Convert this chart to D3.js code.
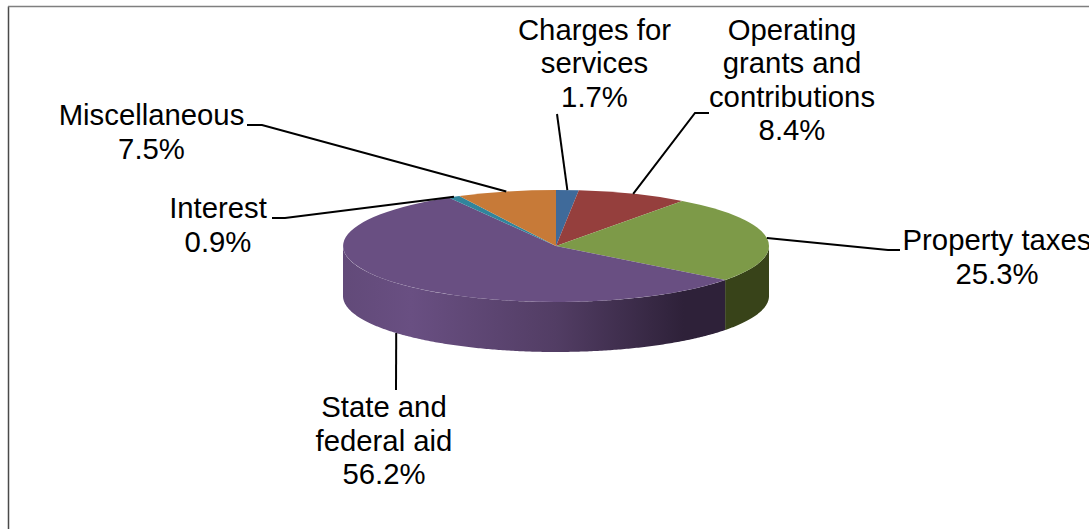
<!DOCTYPE html>
<html>
<head>
    <title>Revenue Pie</title>
    <script src="https://cdn.jsdelivr.net/npm/d3@7/dist/d3.min.js"></script>
    <style>
        html, body {
            margin: 0;
            padding: 0;
            background: #fff;
            overflow: hidden;
        }
        svg {
            display: block;
        }
        .slice-label {
            font-family: "Liberation Sans", Arial, sans-serif;
            font-size: 29.3px;
            fill: #000;
        }
    </style>
</head>
<body>
    <svg width="1089" height="529" id="mainsvg"></svg>
    <script>
        const categories = ['Charges for services', 'Operating grants and contributions', 'Property taxes', 'State and federal aid', 'Interest', 'Miscellaneous'];
        const shares = [1.7, 8.4, 25.3, 56.2, 0.9, 7.5];
        const topColors = ['#3f6a9a', '#953f3d', '#7d9a48', '#694f82', '#31859c', '#c77a38'];
        const labelLines = [
            ['Charges for', 'services', '1.7%'],
            ['Operating', 'grants and', 'contributions', '8.4%'],
            ['Property taxes', '25.3%'],
            ['State and', 'federal aid', '56.2%'],
            ['Interest', '0.9%'],
            ['Miscellaneous', '7.5%']
        ];

        const svg = d3.select('#mainsvg');
        const cx = 556, cy = 246, rx = 213, ry = 56, depth = 50;

        // chart frame
        svg.append('path').attr('d', 'M8.5,529V6.5').attr('stroke', '#4a4a4a').attr('stroke-width', 1.5).attr('fill', 'none');
        svg.append('path').attr('d', 'M8,6.5H1089').attr('stroke', '#7f7f7f').attr('stroke-width', 1.5).attr('fill', 'none');

        const pie = d3.pie().sort(null);
        const arcs = pie(shares);

        // angle on the ellipse -> screen point, 0 at the top, clockwise
        const xAt = a => cx + rx * Math.sin(a);
        const yAt = a => cy - ry * Math.cos(a);

        const grad = svg.append('defs').append('linearGradient')
            .attr('id', 'sideGrad')
            .attr('gradientUnits', 'userSpaceOnUse')
            .attr('x1', cx - rx).attr('x2', cx + rx).attr('y1', 0).attr('y2', 0);
        [[0, '#624a79'], [0.16, '#694f82'], [0.5, '#523d64'], [0.8, '#2e2139'], [1, '#2e2139']]
            .forEach(s => grad.append('stop').attr('offset', s[0]).attr('stop-color', s[1]));

        // sides: only the part of each slice facing the viewer (90deg..270deg)
        const sideColors = [null, null, '#384319', 'url(#sideGrad)', null, null];
        const sideLine = d3.line().x(d => d[0]).y(d => d[1]);
        arcs.forEach((d, i) => {
            if (!sideColors[i]) return;
            const from = Math.max(d.startAngle, Math.PI / 2);
            const to = Math.min(d.endAngle, Math.PI * 1.5);
            const angles = d3.range(from, to, 0.01).concat(to);
            const pts = angles.map(a => [xAt(a), yAt(a)])
                .concat(angles.slice().reverse().map(a => [xAt(a), yAt(a) + depth]));
            svg.append('path')
                .attr('d', sideLine(pts) + 'Z')
                .attr('fill', sideColors[i]);
        });

        // top face
        const arc = d3.arc().innerRadius(0).outerRadius(1);
        svg.append('g')
            .attr('transform', `translate(${cx},${cy}) scale(${rx},${ry})`)
            .selectAll('path')
            .data(arcs)
            .enter()
            .append('path')
                .attr('d', arc)
                .attr('fill', (d, i) => topColors[i]);

        // leader lines, start on the rim at the middle of the slice
        const elbows = [
            [[557, 114]],
            [[695, 113], [709, 113]],
            [[888, 250], [900, 250]],
            [[396, 390]],
            [[285, 218], [272, 218]],
            [[262, 125], [247, 125]]
        ];
        arcs.forEach((d, i) => {
            const mid = (d.startAngle + d.endAngle) / 2;
            const front = i === 3 ? depth : 0;
            const pts = [[xAt(mid), yAt(mid) + front]].concat(elbows[i]);
            svg.append('path')
                .attr('d', sideLine(pts))
                .attr('fill', 'none')
                .attr('stroke', '#000')
                .attr('stroke-width', 2);
        });

        // labels
        const labelPos = [[594.5, 39.5], [792, 39.5], [997, 250], [384, 417], [218, 218], [151.5, 125]];
        labelLines.forEach((lines, i) => {
            const t = svg.append('text')
                .attr('class', 'slice-label')
                .attr('text-anchor', 'middle')
                .attr('data-category', categories[i]);
            lines.forEach((s, j) => {
                t.append('tspan')
                    .attr('x', labelPos[i][0])
                    .attr('y', labelPos[i][1] + j * 33.5)
                    .text(s);
            });
        });
    </script>
</body>
</html>
